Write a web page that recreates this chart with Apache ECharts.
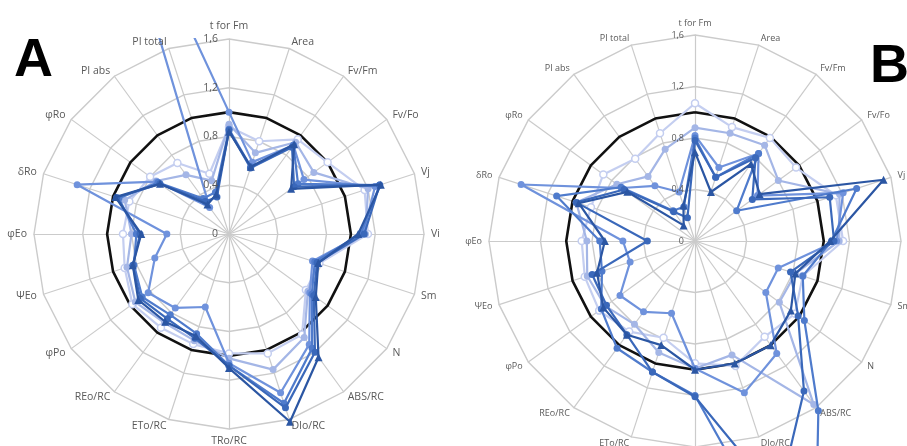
<!DOCTYPE html>
<html>
<head>
<meta charset="utf-8">
<script src="https://cdn.jsdelivr.net/npm/echarts@6/dist/echarts.min.js"></script>
<style>
  html, body { margin: 0; padding: 0; background: #ffffff; }
  #chart { width: 907px; height: 446px; }
</style>
</head>
<body>
<div id="chart"></div>
<script>
// Axis names, clockwise from the top
const parameters = ['t for Fm', 'Area', 'Fv/Fm', 'Fv/Fo', 'Vj', 'Vi', 'Sm', 'N', 'ABS/RC', 'DIo/RC',
  'TRo/RC', 'ETo/RC', 'REo/RC', 'φPo', 'ΨEo', 'φEo', 'δRo', 'φRo', 'PI abs', 'PI total'];
const tickValues = [0, 0.4, 0.8, 1.2, 1.6];
const scaleMax = 1.6;

// Control (reference level)
const control = [1, 1, 1, 1, 1, 1, 1, 1, 1, 1, 1, 1, 1, 1, 1, 1, 1, 1, 1, 1];

// Panel A
const a1 = [0.88, 0.80, 0.96, 1.00, 1.17, 1.14, 0.78, 0.78, 1.02, 1.03, 0.98, 0.95, 0.95, 0.98, 0.90, 0.87, 0.86, 0.80, 0.72, 0.52];
const a2 = [0.90, 0.70, 0.93, 0.86, 1.20, 1.12, 0.76, 0.80, 1.05, 1.17, 1.02, 0.92, 0.90, 0.95, 0.88, 0.80, 0.90, 0.74, 0.60, 0.46];
const a3 = [1.00, 0.62, 0.90, 0.76, 1.26, 1.10, 0.72, 0.82, 1.12, 1.37, 1.06, 0.63, 0.75, 0.82, 0.64, 0.51, 1.31, 0.73, 0.27, 3.50];
const a4 = [0.86, 0.58, 0.90, 0.70, 1.30, 1.08, 0.74, 0.84, 1.16, 1.46, 1.08, 0.86, 0.82, 0.88, 0.82, 0.76, 0.95, 0.72, 0.36, 0.36];
const a5 = [0.85, 0.57, 0.88, 0.66, 1.30, 1.11, 0.76, 0.86, 1.20, 1.50, 1.08, 0.90, 0.86, 0.90, 0.83, 0.73, 0.97, 0.70, 0.33, 0.32];
const a6 = [0.84, 0.58, 0.91, 0.63, 1.31, 1.06, 0.77, 0.88, 1.25, 1.62, 1.10, 0.88, 0.89, 0.92, 0.83, 0.72, 0.98, 0.70, 0.30, 0.34];

// Panel B
const b1 = [1.07, 0.93, 0.99, 0.97, 1.15, 1.15, 0.88, 0.96, 0.92, 1.02, 0.95, 0.79, 0.87, 0.92, 0.90, 0.88, 0.85, 0.88, 0.79, 0.88];
const b2 = [0.88, 0.88, 0.92, 0.80, 1.18, 1.12, 0.82, 0.81, 1.57, 0.93, 0.99, 0.91, 0.80, 0.86, 0.88, 0.84, 0.97, 0.75, 0.62, 0.75];
const b3 = [0.82, 0.60, 0.84, 0.60, 1.21, 1.10, 0.68, 0.68, 1.08, 1.24, 0.99, 0.59, 0.68, 0.72, 0.53, 0.56, 1.42, 0.70, 0.53, 0.40];
const b4 = [0.80, 0.52, 0.84, 0.40, 1.32, 1.06, 0.88, 1.05, 1.63, 3.00, 1.20, 1.07, 1.03, 0.90, 0.76, 0.74, 1.13, 0.71, 0.29, 0.28];
const b5 = [0.78, 0.52, 0.80, 0.55, 1.10, 1.08, 0.78, 0.99, 1.44, 2.10, 1.21, 1.07, 0.90, 0.85, 0.84, 0.37, 0.97, 0.68, 0.28, 0.19];
const b6 = [0.69, 0.40, 0.74, 0.62, 1.54, 1.05, 0.82, 0.92, 1.00, 1.00, 1.00, 0.85, 0.90, 0.88, 0.80, 0.70, 0.95, 0.65, 0.15, 0.29];

// ECharts lays radar indicators out counter-clockwise; reorder so they run clockwise.
function clockwise(arr) { return [arr[0]].concat(arr.slice(1).reverse()); }

const styles = [
  { color: '#c4cef0', hollow: true,  symbol: 'circle' },
  { color: '#a4b6e6', hollow: false, symbol: 'circle' },
  { color: '#6f92dc', hollow: false, symbol: 'circle' },
  { color: '#4f7bcc', hollow: false, symbol: 'circle' },
  { color: '#3a68ba', hollow: false, symbol: 'circle' },
  { color: '#2b56a3', hollow: false, symbol: 'triangle' }
];

const tickFmt = v => (v === 0 ? '0' : v.toFixed(1).replace('.', ','));

function indicators(withTicks, fontSize) {
  return clockwise(parameters).map((name, i) => {
    const ind = { name: name, min: 0, max: scaleMax };
    if (withTicks && i === 0) {
      ind.axisLabel = { show: true, color: '#595959', fontSize: fontSize, fontFamily: 'Open Sans', formatter: tickFmt, margin: 11 };
    }
    return ind;
  });
}

function gridRadar(center, radius) {
  return {
    center: center, radius: radius, startAngle: 90, shape: 'polygon',
    splitNumber: tickValues.length - 1, indicator: indicators(false),
    axisName: { show: false },
    axisLine: { lineStyle: { color: '#cbcbcb', width: 1.2 } },
    splitLine: { lineStyle: { color: '#cbcbcb', width: 1.4 } },
    splitArea: { show: false },
    axisTick: { show: false }, axisLabel: { show: false },
    z: 1
  };
}

function labelRadar(center, radius, fontSize, gap) {
  return {
    center: center, radius: radius, startAngle: 90, shape: 'polygon',
    splitNumber: tickValues.length - 1, indicator: indicators(true, fontSize),
    nameGap: gap,
    axisName: { color: '#595959', fontSize: fontSize, fontFamily: 'Open Sans' },
    axisLine: { show: false }, splitLine: { show: false }, splitArea: { show: false },
    axisTick: { show: false }, axisLabel: { show: false },
    z: 10
  };
}

function panelSeries(radarIndex, groups) {
  const out = [{
    type: 'radar', radarIndex: radarIndex, z: 2, silent: true, symbol: 'none',
    lineStyle: { color: '#111111', width: 2.6, type: 'solid' },
    data: [{ value: clockwise(control) }]
  }];
  groups.forEach((vals, k) => {
    const st = styles[k];
    out.push({
      type: 'radar', radarIndex: radarIndex, z: 3 + k, silent: true,
      symbol: st.symbol, symbolSize: st.symbol === 'triangle' ? 8 : 7,
      lineStyle: { color: st.color, width: 2.2, type: 'solid' },
      itemStyle: st.hollow
        ? { color: '#ffffff', borderColor: st.color, borderWidth: 1.5 }
        : { color: st.color },
      data: [{ value: clockwise(vals) }]
    });
  });
  return out;
}

const chart = echarts.init(document.getElementById('chart'), null, { renderer: 'canvas' });
chart.setOption({
  backgroundColor: '#ffffff',
  animation: false,
  radar: [
    gridRadar([229, 234], 195),
    labelRadar([229, 234], 195, 10.5, 7),
    gridRadar([695, 241], 206),
    labelRadar([695, 241], 206, 9, 7)
  ],
  series: [].concat(
    panelSeries(0, [a1, a2, a3, a4, a5, a6]),
    panelSeries(2, [b1, b2, b3, b4, b5, b6])
  ),
  graphic: [
    // trims the PI total spike of panel A at the top of the plot
    { type: 'rect', z: 8, shape: { x: 90, y: 0, width: 125, height: 38 }, style: { fill: '#ffffff' } },
    { type: 'text', z: 20, left: 14, top: 34, style: { text: 'A', fill: '#000', font: 'bold 54px "Liberation Sans", Arial, sans-serif' } },
    { type: 'text', z: 20, left: 870, top: 40, style: { text: 'B', fill: '#000', font: 'bold 54px "Liberation Sans", Arial, sans-serif' } }
  ]
});
</script>
</body>
</html>
